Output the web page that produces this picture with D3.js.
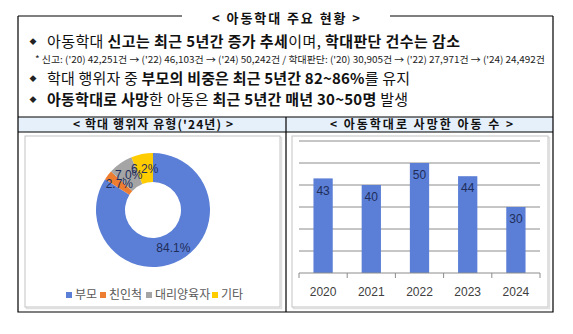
<!DOCTYPE html>
<html>
<head>
<meta charset="utf-8">
<script src="https://cdn.jsdelivr.net/npm/d3@7"></script>
<style>
  body { margin: 0; background: #fff; }
  svg { display: block; font-family: "Noto Sans CJK KR", "Noto Sans", sans-serif; }
</style>
</head>
<body>
<div id="chart"></div>
<script>
// Data
const pieCategories = ["부모", "친인척", "대리양육자", "기타"];
const pieValues = [84.1, 2.7, 7.0, 6.2];
const pieColors = ["#5b7fd6", "#ed7d31", "#a5a5a5", "#ffcc00"];

const years = ["2020", "2021", "2022", "2023", "2024"];
const deaths = [43, 40, 50, 44, 30];
const yTicks = [10, 20, 30, 40, 50, 60];

const title = "< 아동학대 주요 현황 >";
const leftHeader = "< 학대 행위자 유형('24년) >";
const rightHeader = "< 아동학대로 사망한 아동 수 >";

// Bullet lines: [text, bold?] segments
const line1 = [["아동학대 ", false], ["신고는 최근 5년간 증가 추세", true], ["이며, ", false], ["학대판단 건수는 감소", true]];
const line2 = "* 신고: ('20) 42,251건 → ('22) 46,103건 → ('24) 50,242건 / 학대판단: ('20) 30,905건 → ('22) 27,971건 → ('24) 24,492건";
const line3 = [["학대 행위자 중 ", false], ["부모의 비중은 최근 5년간 82~86%", true], ["를 유지", false]];
const line4 = [["아동학대로 사망", true], ["한 아동은 ", false], ["최근 5년간 매년 30~50명", true], [" 발생", false]];

const W = 573, H = 334;
const svg = d3.select("#chart").append("svg")
    .attr("width", W)
    .attr("height", H);

svg.append("rect").attr("width", W).attr("height", H).attr("fill", "#fff");

// Frame
const box = {left: 18, right: 553, top: 16, bottom: 312};
const headTop = 117, headBottom = 132, divider = 286;

svg.append("rect")
    .attr("x", box.left).attr("y", headTop)
    .attr("width", box.right - box.left).attr("height", headBottom - headTop)
    .attr("fill", "#e6f0fb");

const frame = svg.append("g").attr("stroke", "#000").attr("stroke-width", 1.2).attr("fill", "none");
frame.append("path").attr("d", `M${box.left},${box.top}H182`);
frame.append("path").attr("d", `M390,${box.top}H${box.right}`);
frame.append("path").attr("d", `M${box.left},${box.top}V${box.bottom}H${box.right}V${box.top}`);
frame.append("path").attr("d", `M${box.left},${headTop}H${box.right}`);
frame.append("path").attr("d", `M${box.left},${headBottom}H${box.right}`);
frame.append("path").attr("d", `M${divider},${headTop}V${box.bottom}`);

svg.append("text")
    .attr("x", 212).attr("y", 18)
    .attr("dy", "0.35em")
    .attr("textLength", 148)
    .attr("lengthAdjust", "spacing")
    .style("font-size", "13px").style("font-weight", "bold")
    .attr("fill", "#111")
    .text(title);

// Bullet lines
function bulletLine(segs, y, endX) {
    svg.append("text")
        .attr("x", 33).attr("y", y).attr("dy", "0.35em")
        .attr("text-anchor", "middle")
        .style("font-size", "7px")
        .attr("fill", "#222")
        .text("◆");
    const t = svg.append("text")
        .attr("x", 47).attr("y", y).attr("dy", "0.35em")
        .style("font-size", "15px")
        .attr("fill", "#111")
        .attr("textLength", endX - 47)
        .attr("lengthAdjust", "spacing");
    segs.forEach(s => {
        t.append("tspan")
            .style("font-weight", s[1] ? "bold" : "normal")
            .text(s[0]);
    });
}
bulletLine(line1, 42, 460);
bulletLine(line3, 79, 410);
bulletLine(line4, 100, 408);

svg.append("text")
    .attr("x", 35).attr("y", 60).attr("dy", "0.35em")
    .style("font-size", "9.5px")
    .attr("fill", "#222")
    .attr("textLength", 545 - 35)
    .attr("lengthAdjust", "spacingAndGlyphs")
    .text(line2);

// Section headers
svg.append("text")
    .attr("x", 73).attr("y", (headTop + headBottom) / 2).attr("dy", "0.35em")
    .attr("textLength", 160)
    .attr("lengthAdjust", "spacing")
    .style("font-size", "12px").style("font-weight", "bold")
    .attr("fill", "#111")
    .text(leftHeader);
svg.append("text")
    .attr("x", 330).attr("y", (headTop + headBottom) / 2).attr("dy", "0.35em")
    .attr("textLength", 183)
    .attr("lengthAdjust", "spacing")
    .style("font-size", "12px").style("font-weight", "bold")
    .attr("fill", "#111")
    .text(rightHeader);

// Chart area boxes (with slight shadow)
function chartBox(x0, x1) {
    svg.append("rect")
        .attr("x", x0 + 1.5).attr("y", 137.5)
        .attr("width", x1 - x0).attr("height", 307 - 136)
        .attr("fill", "none").attr("stroke", "#e0e0e0").attr("stroke-width", 1.5);
    svg.append("rect")
        .attr("x", x0).attr("y", 136)
        .attr("width", x1 - x0).attr("height", 307 - 136)
        .attr("fill", "#fff").attr("stroke", "#c4c4c4");
}
chartBox(25, 280);
chartBox(292, 548);

// Donut
const cx = 153, cy = 210;
const pie = d3.pie().sort(null).value(d => d);
const arc = d3.arc().innerRadius(28).outerRadius(57);
const arcs = pie(pieValues);
const donut = svg.append("g").attr("transform", `translate(${cx},${cy})`);
donut.selectAll("path")
    .data(arcs)
    .join("path")
    .attr("d", arc)
    .attr("fill", (d, i) => pieColors[i]);
donut.selectAll("text")
    .data(arcs)
    .join("text")
    .attr("transform", d => `translate(${arc.centroid(d)})`)
    .attr("dy", "0.35em")
    .attr("text-anchor", "middle")
    .style("font-family", "Arial, 'Liberation Sans', sans-serif")
    .style("font-size", "12px")
    .attr("fill", "#1f2d5a")
    .text(d => d3.format(".1f")(d.data) + "%");

// Pie legend
const legendX = [66, 100, 146, 212];
const legend = svg.append("g");
pieCategories.forEach((c, i) => {
    legend.append("rect")
        .attr("x", legendX[i]).attr("y", 292)
        .attr("width", 6).attr("height", 6)
        .attr("fill", pieColors[i]);
    legend.append("text")
        .attr("x", legendX[i] + 9).attr("y", 295).attr("dy", "0.35em")
        .style("font-size", "12px")
        .attr("fill", "#595959")
        .text(c);
});

// Bar chart
const plot = {left: 299, right: 540, top: 141, bottom: 273};
const xScale = d3.scaleBand().domain(years).range([plot.left, plot.right]).paddingInner(0.6).paddingOuter(0.3);
const xBand = d3.scaleBand().domain(years).range([plot.left, plot.right]);
const yScale = d3.scaleLinear().domain([0, 60]).range([plot.bottom, plot.top]);

svg.append("g")
    .selectAll("line")
    .data(yTicks)
    .join("line")
    .attr("x1", plot.left).attr("x2", plot.right)
    .attr("y1", d => yScale(d)).attr("y2", d => yScale(d))
    .attr("stroke", "#8c8c8c").attr("stroke-width", 1);

svg.append("g")
    .selectAll("rect")
    .data(deaths)
    .join("rect")
    .attr("x", (d, i) => xScale(years[i]))
    .attr("y", d => yScale(d))
    .attr("width", xScale.bandwidth())
    .attr("height", d => yScale(0) - yScale(d))
    .attr("fill", "#5b7fd6");

svg.append("g")
    .selectAll("text")
    .data(deaths)
    .join("text")
    .attr("x", (d, i) => xScale(years[i]) + xScale.bandwidth() / 2)
    .attr("y", d => yScale(d) + 12)
    .attr("dy", "0.35em")
    .attr("text-anchor", "middle")
    .style("font-family", "Arial, 'Liberation Sans', sans-serif")
    .style("font-size", "12px")
    .attr("fill", "#1f2d5a")
    .text(d => d);

// X axis with ticks at band edges
const xAxis = svg.append("g").attr("transform", `translate(0,${plot.bottom})`);
xAxis.append("line")
    .attr("x1", plot.left).attr("x2", plot.right)
    .attr("stroke", "#8c8c8c");
xAxis.selectAll(".tick")
    .data(years.concat(["end"]))
    .join("line")
    .attr("class", "tick")
    .attr("x1", (d, i) => i < years.length ? xBand(d) : plot.right)
    .attr("x2", (d, i) => i < years.length ? xBand(d) : plot.right)
    .attr("y1", 0).attr("y2", 5)
    .attr("stroke", "#8c8c8c");
xAxis.selectAll(".lbl")
    .data(years)
    .join("text")
    .attr("class", "lbl")
    .attr("x", d => xBand(d) + xBand.bandwidth() / 2)
    .attr("y", 19)
    .attr("dy", "0.35em")
    .attr("text-anchor", "middle")
    .style("font-family", "Arial, 'Liberation Sans', sans-serif")
    .style("font-size", "12px")
    .attr("fill", "#404040")
    .text(d => d);
</script>
</body>
</html>
